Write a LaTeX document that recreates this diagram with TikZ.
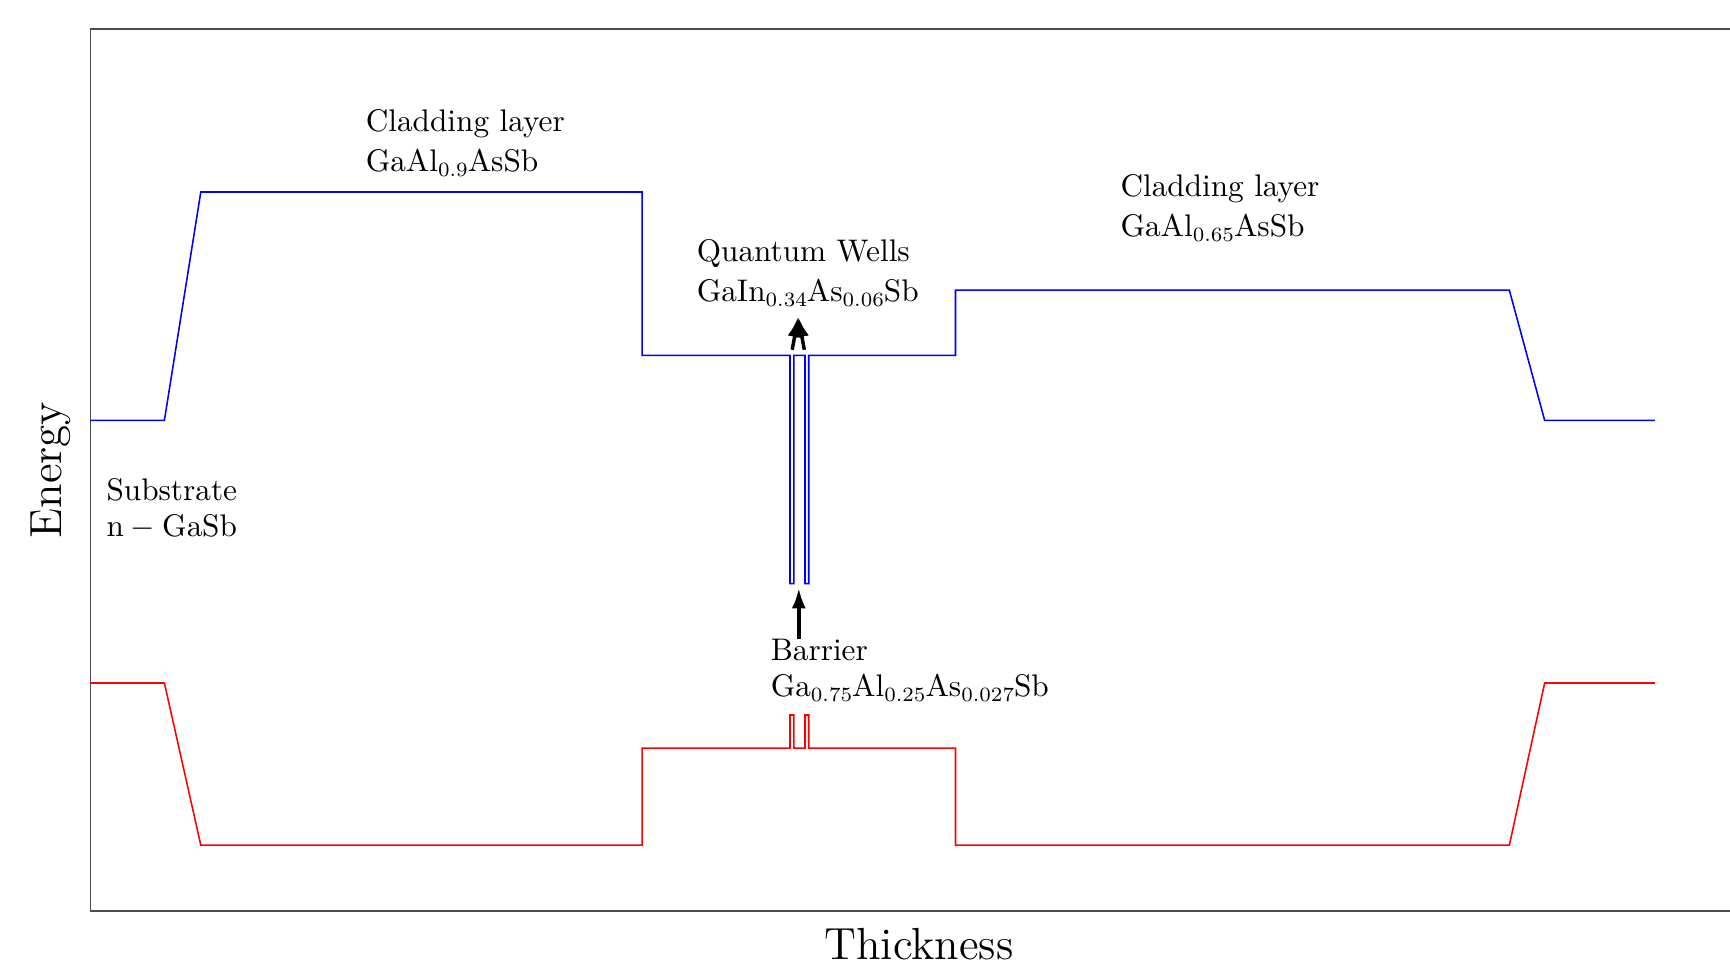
\documentclass[tikz,border=0pt]{standalone}
\usetikzlibrary{arrows.meta}
\newcommand{\sbs}[1]{\raisebox{-1.8pt}{\fontsize{6.5pt}{7.5pt}\selectfont #1}}
\begin{document}
\begin{tikzpicture}[x=0.353pt,y=-0.353pt,
  band/.style={line width=0.5pt, line join=miter},
  lbl/.style={anchor=base west, inner sep=0pt, font=\normalsize},
  ptr/.style={line width=1.1pt, -{Latex[length=6.5pt,width=4.5pt]}}]
\useasboundingbox (0,0) rectangle (1568,874);
% frame
\draw[black!70, line width=0.6pt] (1568,26) -- (82,26) -- (82,826) -- (1568,826);
% conduction band
\draw[band, blue] (82,381) -- (149,381) -- (182,174) -- (582,174) -- (582,322)
  -- (716,322) -- (716,529) -- (719.6,529) -- (719.6,322) -- (729.6,322)
  -- (729.6,529) -- (733,529) -- (733,322) -- (866,322) -- (866,263)
  -- (1368,263) -- (1400,381) -- (1500,381);
% valence band
\draw[band, red] (82,619) -- (149,619) -- (182,766) -- (582,766) -- (582,678)
  -- (716,678) -- (716,648) -- (719.6,648) -- (719.6,678) -- (729.6,678)
  -- (729.6,648) -- (733,648) -- (733,678) -- (866,678) -- (866,766)
  -- (1368,766) -- (1400,619) -- (1500,619);
% labels
\node[lbl] (cl1a) at (331,119) {Cladding layer};
\node[lbl] (cl1b) at (331,155) {GaAl\sbs{0.9}AsSb};
\node[lbl] (qwa) at (631,237) {Quantum Wells};
\node[lbl] (qwb) at (631,273) {GaIn\sbs{0.34}As\sbs{0.06}Sb};
\node[lbl] (cl2a) at (1015,178) {Cladding layer};
\node[lbl] (cl2b) at (1015,214) {GaAl\sbs{0.65}AsSb};
\node[lbl] (suba) at (96,454) {Substrate};
\node[lbl] (subb) at (96,486) {$\mathrm{n-GaSb}$};
\node[lbl] (bara) at (698,599) {Barrier};
\node[lbl] (barb) at (698,631) {Ga\sbs{0.75}Al\sbs{0.25}As\sbs{0.027}Sb};
\node[anchor=base, inner sep=0pt, font=\Large] (xlab) at (833,870) {Thickness};
\node[anchor=base, inner sep=0pt, font=\Large, rotate=90] (ylab) at (56,426) {Energy};
% arrows
\coordinate (qwL) at (718,317);
\coordinate (qwR) at (729,317);
\coordinate (qwTip) at (723.5,287);
\draw[ptr] (qwL) -- (qwTip);
\draw[ptr] (qwR) -- (qwTip);
\coordinate (barTail) at (724,579);
\coordinate (barTip) at (724,533);
\draw[ptr] (barTail) -- (barTip);
\end{tikzpicture}
\end{document}
